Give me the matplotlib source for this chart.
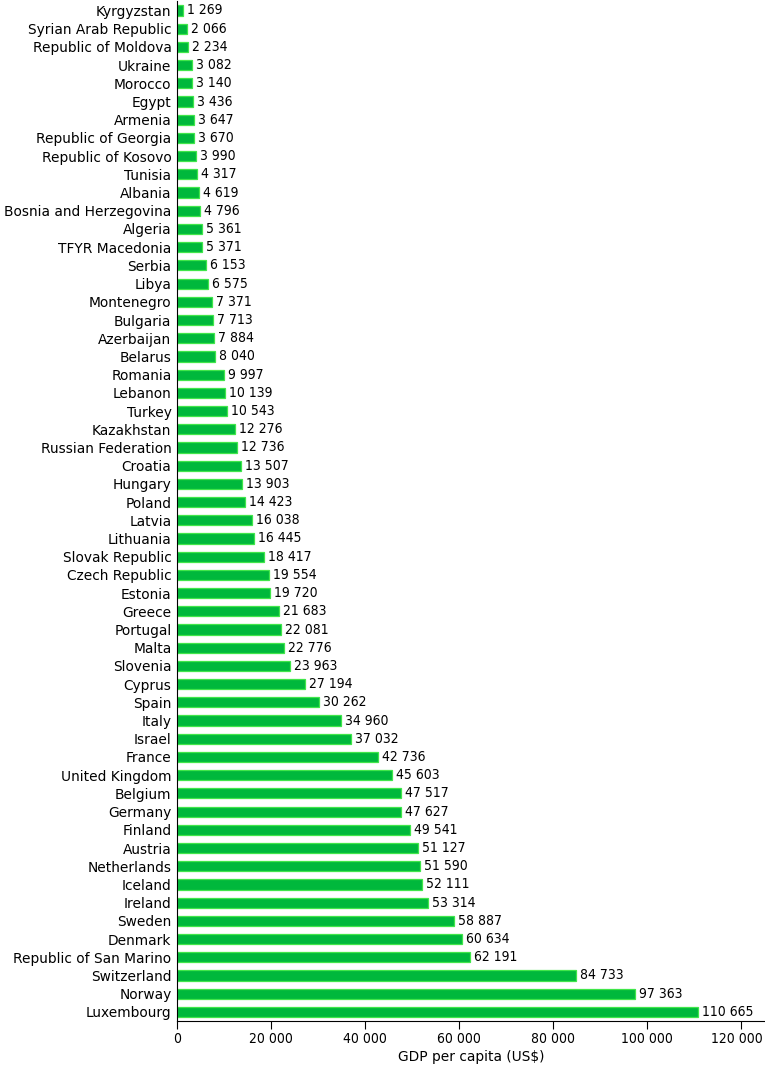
import numpy as np
import matplotlib.pyplot as plt
from matplotlib.transforms import ScaledTranslation

countries = ["Kyrgyzstan", "Syrian Arab Republic", "Republic of Moldova", "Ukraine",
             "Morocco", "Egypt", "Armenia", "Republic of Georgia", "Republic of Kosovo",
             "Tunisia", "Albania", "Bosnia and Herzegovina", "Algeria", "TFYR Macedonia",
             "Serbia", "Libya", "Montenegro", "Bulgaria", "Azerbaijan", "Belarus",
             "Romania", "Lebanon", "Turkey", "Kazakhstan", "Russian Federation",
             "Croatia", "Hungary", "Poland", "Latvia", "Lithuania", "Slovak Republic",
             "Czech Republic", "Estonia", "Greece", "Portugal", "Malta", "Slovenia",
             "Cyprus", "Spain", "Italy", "Israel", "France", "United Kingdom",
             "Belgium", "Germany", "Finland", "Austria", "Netherlands", "Iceland",
             "Ireland", "Sweden", "Denmark", "Republic of San Marino", "Switzerland",
             "Norway", "Luxembourg"]
gdp = [1269, 2066, 2234, 3082, 3140, 3436, 3647, 3670, 3990, 4317, 4619, 4796,
       5361, 5371, 6153, 6575, 7371, 7713, 7884, 8040, 9997, 10139, 10543, 12276,
       12736, 13507, 13903, 14423, 16038, 16445, 18417, 19554, 19720, 21683,
       22081, 22776, 23963, 27194, 30262, 34960, 37032, 42736, 45603, 47517,
       47627, 49541, 51127, 51590, 52111, 53314, 58887, 60634, 62191, 84733,
       97363, 110665]
xticks = [0, 20000, 40000, 60000, 80000, 100000, 120000]


def fmt(v):
    return f"{v:,}".replace(",", " ")


fig = plt.figure(figsize=(7.65, 10.71), dpi=100)
ax = fig.add_axes([0.2314, 0.0467, 0.7686, 0.952])

y = np.arange(len(countries))
ax.barh(y, gdp, height=0.56, color='#00b83c', edgecolor='#40e64a', linewidth=0.9)
for yi, v in zip(y, gdp):
    ax.text(v + 850, yi, fmt(v), va='center', ha='left', fontsize=10,
            fontstretch='condensed', color='black')

ax.set_ylim(len(countries) - 0.5, -0.5)
ax.set_xlim(0, 125000)
ax.set_yticks(y)
ax.set_yticklabels(countries, fontsize=9.9)
ax.tick_params(axis='y', length=0, pad=4)
ax.set_xticks(xticks)
ax.set_xticklabels([fmt(t) for t in xticks], fontsize=10, fontstretch='condensed')
ax.tick_params(axis='x', direction='out', length=6, pad=2)
# last tick label sits a bit left so it stays inside the figure
last = ax.get_xticklabels()[-1]
last.set_transform(last.get_transform() + ScaledTranslation(-5 / 100, 0, fig.dpi_scale_trans))
ax.set_xlabel("GDP per capita (US$)", fontsize=9.9, labelpad=3)
ax.spines['top'].set_visible(False)
ax.spines['right'].set_visible(False)

plt.savefig('out.png', dpi=100)
